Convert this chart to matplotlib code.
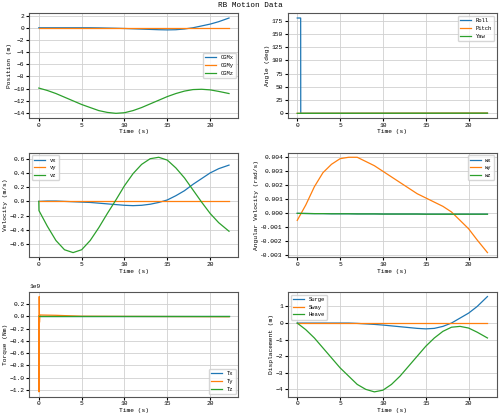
import numpy as np
import matplotlib.pyplot as plt
from matplotlib.ticker import MultipleLocator, FormatStrFormatter

plt.rcParams['font.family'] = ['Liberation Mono', 'DejaVu Sans Mono']
plt.rcParams['font.size'] = 4.5

t = [0, 1, 2, 3, 4, 5, 6, 7, 8, 9, 10, 11, 12, 13, 14, 15, 16, 17, 18, 19, 20, 21, 22.2]
cgm_x = [0, 0, 0, 0, 0, 0, 0, -0.02, -0.05, -0.08, -0.12, -0.17, -0.22, -0.27, -0.32, -0.35, -0.32, -0.2, 0.0, 0.3, 0.6, 1.0, 1.6]
cgm_y = [0] * 23
cgm_z = [-9.9, -10.3, -10.8, -11.4, -12.0, -12.6, -13.1, -13.6, -13.9, -14.05, -13.95, -13.6, -13.1, -12.5, -11.9, -11.3, -10.8, -10.4, -10.15, -10.1, -10.2, -10.45, -10.8]

t_roll = [0, 0.4, 0.41, 22.2]
roll = [180, 180, 0, 0]
pitch_t = [0, 22.2]
pitch = [0, 0.5]
yaw = [0, 0.3]

t_v = [0, 0.02, 1, 2, 3, 4, 5, 6, 7, 8, 9, 10, 11, 12, 13, 14, 15, 16, 17, 18, 19, 20, 21, 22.2]
vx = [0, 0, 0.005, 0.005, 0, -0.005, -0.01, -0.015, -0.025, -0.035, -0.045, -0.055, -0.06, -0.055, -0.04, -0.015, 0.02, 0.08, 0.15, 0.24, 0.32, 0.4, 0.46, 0.51]
vy = [0] * 24
vz = [0, -0.13, -0.35, -0.55, -0.68, -0.72, -0.68, -0.55, -0.37, -0.17, 0.02, 0.22, 0.39, 0.52, 0.6, 0.62, 0.58, 0.47, 0.33, 0.16, -0.01, -0.17, -0.3, -0.42]

wx = [0, -0.00001, -0.00002, -0.00002, -0.00003, -0.00003, -0.00003, -0.00004, -0.00004, -0.00004, -0.00005, -0.00005, -0.00005, -0.00005, -0.00005, -0.00006, -0.00006, -0.00006, -0.00006, -0.00006, -0.00006, -0.00006, -0.00006]
wy = [-0.0005, 0.0006, 0.0019, 0.0029, 0.0035, 0.0039, 0.004, 0.004, 0.0037, 0.0034, 0.003, 0.0026, 0.0022, 0.0018, 0.0014, 0.0011, 0.0008, 0.0005, 0.0001, -0.0005, -0.0011, -0.0019, -0.0028]
wz = wx

tq_t = [0, 0.02, 0.05, 0.08, 0.12, 2, 5, 10, 15, 20, 22.2]
tx = [0] * 11
ty = [0, -1.23e9, 0.32e9, -0.1e9, 0.02e9, 0.015e9, 0.0, -0.003e9, -0.005e9, -0.007e9, -0.008e9]
tz = [0] * 11

surge = cgm_x
sway = cgm_y
heave = [z + 9.9 for z in cgm_z]

fig, axs = plt.subplots(3, 2, figsize=(5, 4.16), dpi=100)
fig.suptitle('RB Motion Data', fontsize=5.5, y=0.995)

panels = [
    (axs[0, 0], [(t, cgm_x, 'CGMx'), (t, cgm_y, 'CGMy'), (t, cgm_z, 'CGMz')], 'Position (m)', 'center right'),
    (axs[0, 1], [(t_roll, roll, 'Roll'), (pitch_t, pitch, 'Pitch'), (pitch_t, yaw, 'Yaw')], 'Angle (deg)', 'upper right'),
    (axs[1, 0], [(t_v, vx, 'vx'), (t_v, vy, 'vy'), (t_v, vz, 'vz')], 'Velocity (m/s)', 'upper left'),
    (axs[1, 1], [(t, wx, 'wx'), (t, wy, 'wy'), (t, wz, 'wz')], 'Angular Velocity (rad/s)', 'upper right'),
    (axs[2, 0], [(tq_t, tx, 'Tx'), (tq_t, ty, 'Ty'), (tq_t, tz, 'Tz')], 'Torque (Nm)', 'lower right'),
    (axs[2, 1], [(t, surge, 'Surge'), (t, sway, 'Sway'), (t, heave, 'Heave')], 'Displacement (m)', 'upper left'),
]

for ax, series, ylabel, loc in panels:
    for x, y, lab in series:
        ax.plot(x, y, label=lab, lw=0.9)
    ax.set_xlabel('Time (s)', labelpad=1)
    ax.set_ylabel(ylabel, labelpad=1)
    ax.grid(True, color='#d0d0d0', lw=0.6)
    ax.legend(loc=loc, fontsize=4)
    ax.tick_params(length=2, pad=1.5)
    ax.set_xticks([0, 5, 10, 15, 20])
    ax.set_xlim(-1.1, 23.3)
    for s in ax.spines.values():
        s.set_color('#555555')

axs[0, 0].yaxis.set_major_locator(MultipleLocator(2))
axs[0, 1].yaxis.set_major_locator(MultipleLocator(25))
axs[1, 0].yaxis.set_major_locator(MultipleLocator(0.2))
axs[1, 1].yaxis.set_major_locator(MultipleLocator(0.001))
axs[1, 1].yaxis.set_major_formatter(FormatStrFormatter('%.3f'))
axs[2, 0].yaxis.set_major_locator(MultipleLocator(0.2e9))
axs[2, 1].yaxis.set_major_locator(MultipleLocator(1))

fig.tight_layout(pad=0.5, h_pad=1.6, w_pad=2.5)
fig.savefig('out.png')
